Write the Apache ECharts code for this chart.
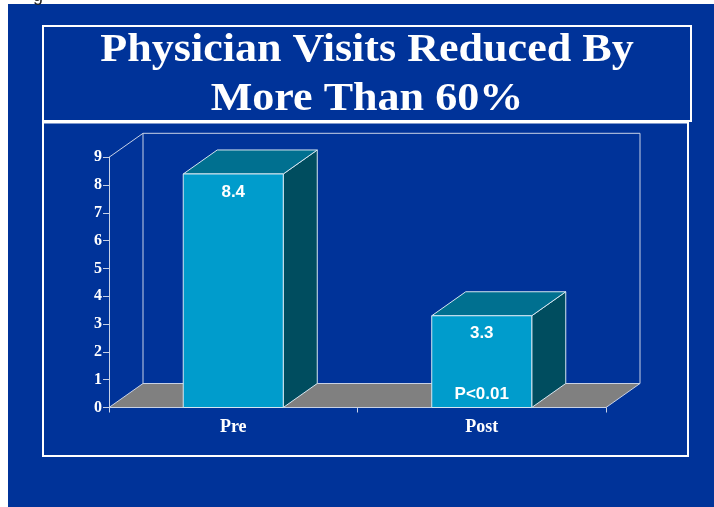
<!DOCTYPE html>
<html>
<head>
<meta charset="utf-8">
<script src="https://cdn.jsdelivr.net/npm/echarts@6/dist/echarts.min.js"></script>
<style>
html,body{margin:0;padding:0;background:#ffffff;}
#chart{width:714px;height:507px;}
</style>
</head>
<body>
<div id="chart"></div>
<script>
// ---- data ----
const titleText = 'Physician Visits Reduced By\nMore Than 60%';
const categories = ['Pre', 'Post'];
const values = [8.4, 3.3];
const valueLabels = ['8.4', '3.3'];
const noteLabels = ['', 'P<0.01'];
const yMin = 0, yMax = 9, yInterval = 1;

// ---- style constants ----
const DX = 34, DY = -24;
const BLUE = '#003399';
const LINE = '#c8d2e6';

const chart = echarts.init(document.getElementById('chart'), null, {renderer: 'canvas'});

function renderFrame(params, api) {
  const cs = params.coordSys;
  const x0 = cs.x, y0 = cs.y, w = cs.width, h = cs.height;
  const yb = y0 + h;
  return {
    type: 'group',
    children: [
      {type: 'polygon', shape: {points: [[x0, yb], [x0 + w, yb], [x0 + w + DX, yb + DY], [x0 + DX, yb + DY]]},
       style: {fill: '#808080', stroke: LINE, lineWidth: 1}},
      {type: 'polyline', shape: {points: [[x0 + DX, yb + DY], [x0 + DX, y0 + DY], [x0 + w + DX, y0 + DY], [x0 + w + DX, yb + DY]]},
       style: {fill: null, stroke: LINE, lineWidth: 1}},
      {type: 'line', shape: {x1: x0, y1: y0, x2: x0 + DX, y2: y0 + DY},
       style: {stroke: LINE, lineWidth: 1}}
    ]
  };
}

function renderBar(params, api) {
  const xi = api.value(0), v = api.value(1);
  const base = api.coord([xi, 0]);
  const top = api.coord([xi, v]);
  const bw = api.size([1, 0])[0] * 0.4025;
  const l = base[0] - bw / 2, r = base[0] + bw / 2, t = top[1], b = base[1];
  const idx = params.dataIndex;
  const edge = {stroke: '#d6e6f0', lineWidth: 1};
  return {
    type: 'group',
    children: [
      {type: 'polygon', shape: {points: [[r, t], [r + DX, t + DY], [r + DX, b + DY], [r, b]]},
       style: Object.assign({fill: '#004d5f'}, edge)},
      {type: 'polygon', shape: {points: [[l, t], [r, t], [r + DX, t + DY], [l + DX, t + DY]]},
       style: Object.assign({fill: '#007090'}, edge)},
      {type: 'rect', shape: {x: l, y: t, width: bw, height: b - t},
       style: Object.assign({fill: '#009ccc'}, edge)},
      {type: 'text', x: base[0], y: t + 18,
       style: {text: valueLabels[idx], fill: '#ffffff', font: 'bold 17px "Liberation Sans", Arial, sans-serif',
               textAlign: 'center', textVerticalAlign: 'middle'}},
      {type: 'text', x: base[0], y: b - 13,
       style: {text: noteLabels[idx], fill: '#ffffff', font: 'bold 17px "Liberation Sans", Arial, sans-serif',
               textAlign: 'center', textVerticalAlign: 'middle'}}
    ]
  };
}

const option = {
  animation: false,
  backgroundColor: '#ffffff',
  graphic: [
    {type: 'rect', z: -10, shape: {x: 8, y: 4, width: 706, height: 503}, style: {fill: BLUE}},
    {type: 'text', z: -9, left: 33, top: -13, style: {text: 'g', fill: '#222', font: '18px "Liberation Sans", Arial'}},
    {type: 'rect', z: -8, shape: {x: 43, y: 26, width: 648, height: 95}, style: {fill: null, stroke: '#ffffff', lineWidth: 2}},
    {type: 'rect', z: -8, shape: {x: 43, y: 122.5, width: 645, height: 333.5}, style: {fill: null, stroke: '#ffffff', lineWidth: 2}},
    {type: 'text', z: 5, x: 367, y: 27, scaleX: 1.13, scaleY: 1,
     style: {text: titleText, fill: '#ffffff', textAlign: 'center', textVerticalAlign: 'top',
             font: 'bold 39px "Liberation Serif", "Times New Roman", serif', lineHeight: 48.4}}
  ],
  grid: {left: 109, right: 108, top: 157.3, bottom: 99.5, containLabel: false},
  xAxis: {
    type: 'category', data: categories,
    axisLine: {show: true, lineStyle: {color: LINE, width: 1}},
    axisTick: {show: true, length: 5, lineStyle: {color: LINE}},
    axisLabel: {color: '#ffffff', fontFamily: '"Liberation Serif", serif', fontWeight: 'bold', fontSize: 18, margin: 11},
    splitLine: {show: false}
  },
  yAxis: {
    type: 'value', min: yMin, max: yMax, interval: yInterval,
    axisLine: {show: true, lineStyle: {color: LINE, width: 1}},
    axisTick: {show: true, length: 6, lineStyle: {color: LINE}},
    axisLabel: {color: '#ffffff', fontFamily: '"Liberation Serif", serif', fontWeight: 'bold', fontSize: 16, margin: 7},
    splitLine: {show: false}
  },
  series: [
    {type: 'custom', renderItem: renderFrame, data: [[0, 0]], z: 1, silent: true},
    {type: 'custom', renderItem: renderBar, data: categories.map((c, i) => [i, values[i]]), z: 2}
  ]
};
chart.setOption(option);
</script>
</body>
</html>
